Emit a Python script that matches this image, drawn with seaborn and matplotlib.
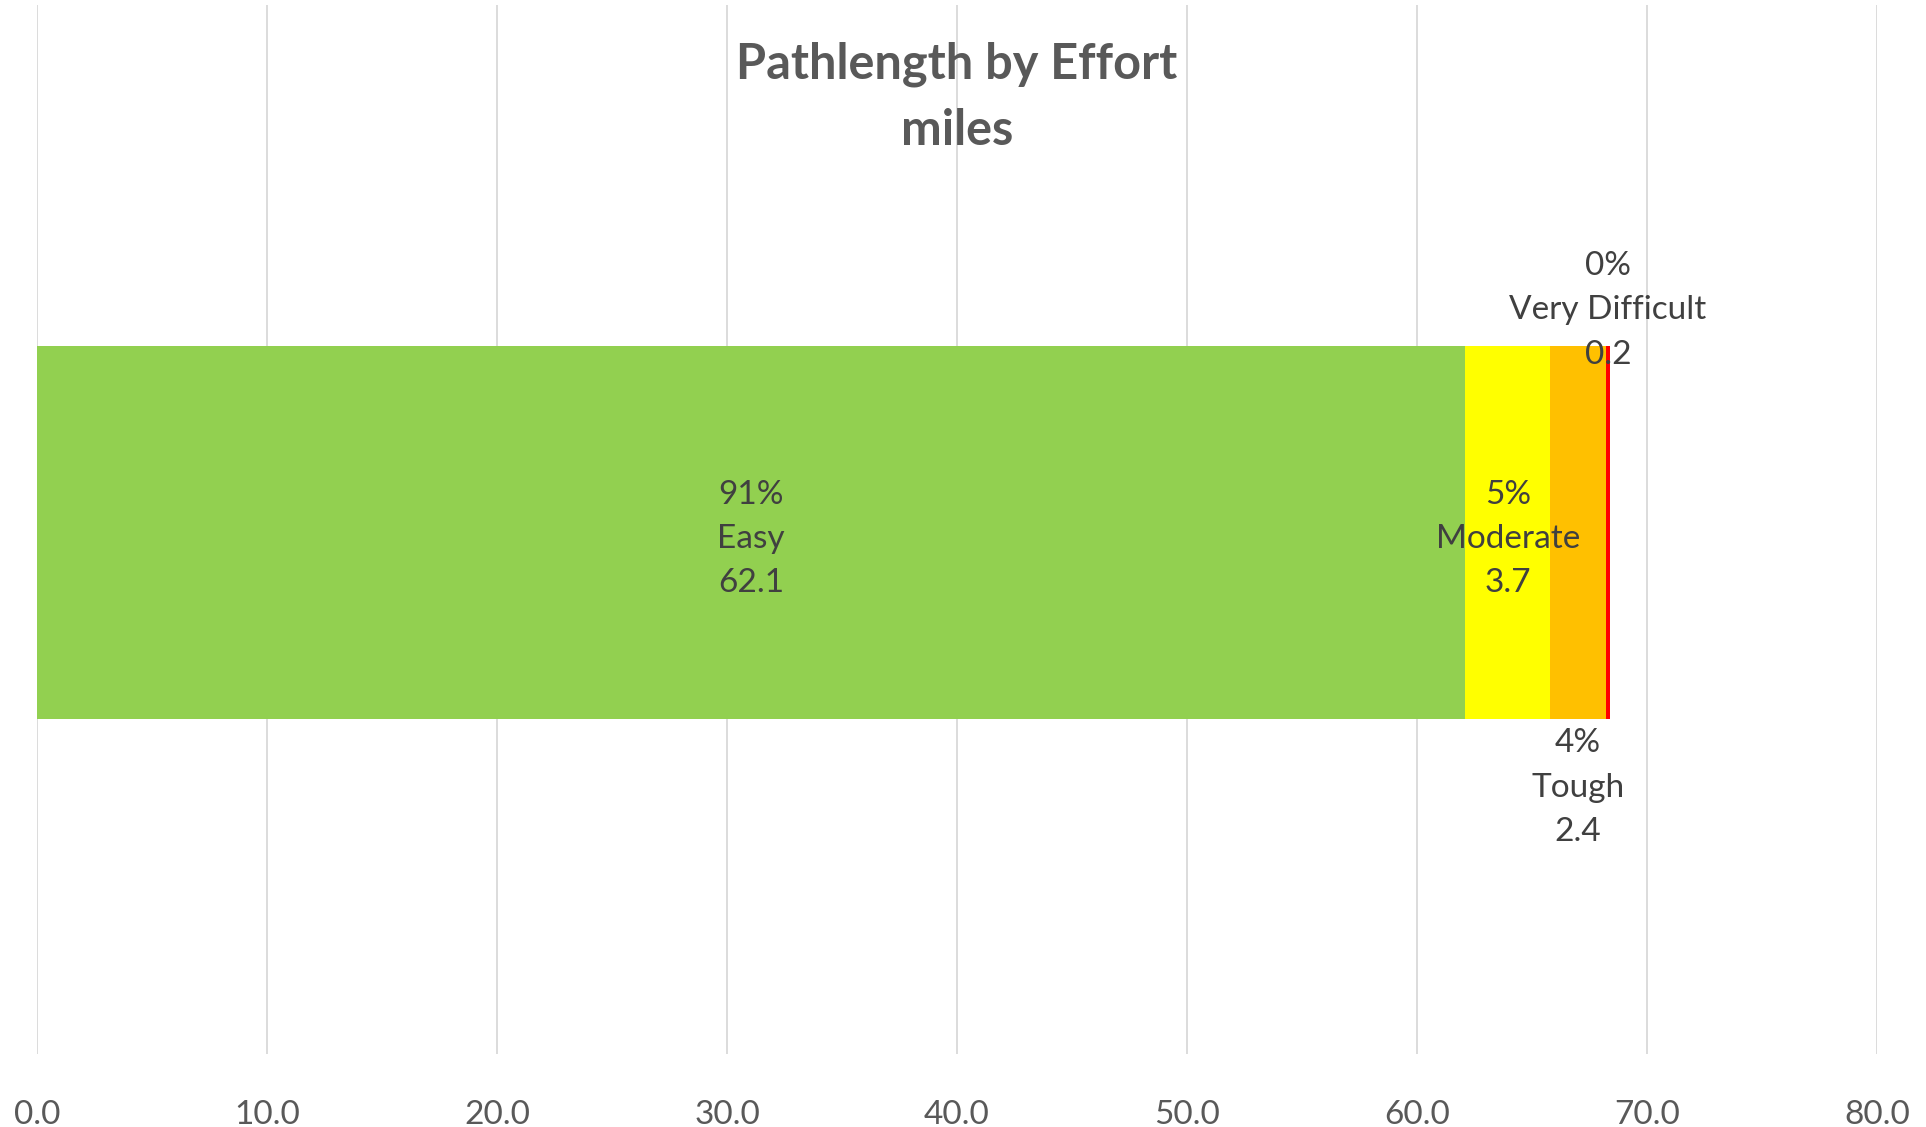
import pandas as pd
import matplotlib.pyplot as plt
import seaborn as sns

# data
efforts = ['Easy', 'Moderate', 'Tough', 'Very Difficult']
miles = [62.1, 3.7, 2.4, 0.2]
colors = ['#92D050', '#FFFF00', '#FFC000', '#FF0000']
pct_labels = ['91%', '5%', '4%', '0%']
xticks = [0, 10, 20, 30, 40, 50, 60, 70, 80]

df = pd.DataFrame({'effort': efforts, 'miles': miles})
df['cum'] = df['miles'].cumsum()
df['start'] = df['cum'] - df['miles']
df['mid'] = df['start'] + df['miles'] / 2
df['row'] = 'Pathlength'

sns.set_style('white')
plt.rcParams['font.family'] = ['Lato', 'DejaVu Sans']

fig = plt.figure(figsize=(19.26, 11.27), dpi=100)
ax = fig.add_axes([0.0192, 0.0648, 0.9554, 0.9308])

# stacked bar: draw cumulative totals from largest to smallest
for i in reversed(range(len(df))):
    sns.barplot(data=df.iloc[[i]], x='cum', y='row', color=colors[i],
                orient='h', width=0.355, saturation=1, ax=ax, zorder=3,
                linewidth=0, edgecolor='none')

ax.set_xlim(0, 80)
ax.set_ylim(0.497, -0.503)
ax.set_xticks(xticks)
ax.set_xticklabels([f'{t:.1f}' for t in xticks], fontsize=24, color='#595959')
ax.tick_params(axis='x', length=0, pad=33)
ax.set_yticks([])
ax.set_xlabel('')
ax.set_ylabel('')
ax.grid(axis='x', color='#D9D9D9', linewidth=1.3, zorder=0)
ax.set_axisbelow(True)
for s in ax.spines.values():
    s.set_visible(False)

# data labels
label_y = [0.006, 0.006, 0.243, -0.212]
for i, r in df.iterrows():
    txt = f"{pct_labels[i]}\n{r['effort']}\n{r['miles']:.1f}"
    ax.text(r['mid'], label_y[i], txt, ha='center', va='center',
            fontsize=24, color='#404040', linespacing=1.6, zorder=5)

ax.text(40, -0.415, 'Pathlength by Effort\nmiles', ha='center', va='center',
        fontsize=35, fontweight='bold', color='#595959', linespacing=1.55,
        zorder=5)

fig.savefig('out.png', dpi=100)
